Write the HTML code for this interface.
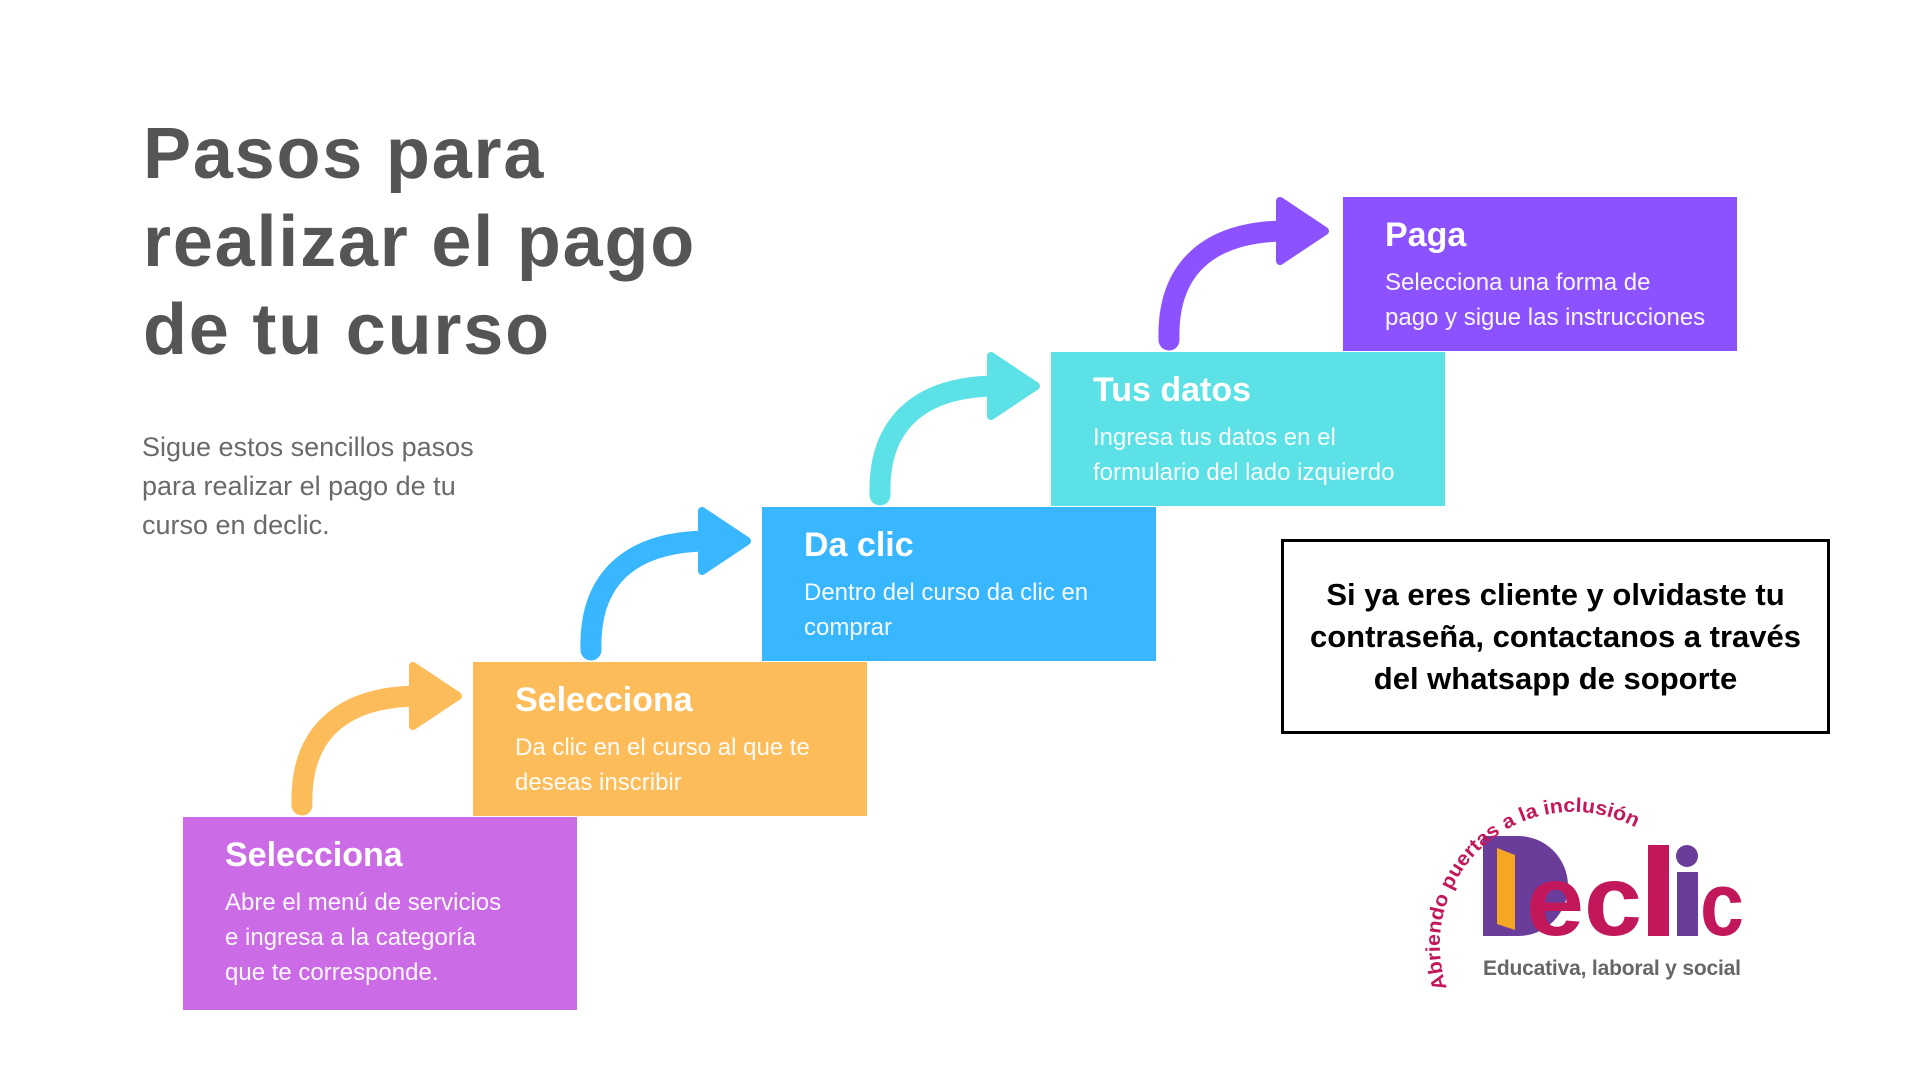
<!DOCTYPE html>
<html><head><meta charset="utf-8"><style>
*{margin:0;padding:0;box-sizing:border-box}
body{width:1920px;height:1080px;background:#fff;position:relative;overflow:hidden;font-family:"Liberation Sans",sans-serif}
.t{position:absolute;left:143px;color:#555;font-weight:bold;font-size:72px;letter-spacing:1.8px;line-height:88px;top:110px;white-space:nowrap}
.sub{position:absolute;left:142px;top:428px;color:#6a6a6a;font-size:27px;line-height:39px}
.box{position:absolute;width:394px;height:154px;color:#fff;padding-left:42px}
.box h2{font-size:34px;font-weight:bold;margin-top:18px;line-height:40px}
.box p{font-size:24px;line-height:35px;margin-top:10px;opacity:.95}
.note{position:absolute;left:1281px;top:539px;width:549px;height:195px;border:3px solid #000;display:flex;align-items:center;justify-content:center;text-align:center;font-weight:bold;font-size:31px;line-height:42px;color:#000}
</style></head><body>
<div class="t">Pasos para<br>realizar el pago<br>de tu curso</div>
<div class="sub">Sigue estos sencillos pasos<br>para realizar el pago de tu<br>curso en declic.</div>

<svg width="1920" height="1080" style="position:absolute;left:0;top:0">
<g fill="none" stroke-width="21" stroke-linecap="round">
<path d="M302,805 C300,735 340,696 420,696" stroke="#FDBC5A"/>
<path d="M591,650 C589,580 629,541 709,541" stroke="#38B6FF"/>
<path d="M880,495 C878,425 918,386 998,386" stroke="#5CE1E6"/>
<path d="M1169,340 C1167,270 1207,231 1287,231" stroke="#8C52FF"/>
</g>
<path d="M413,666 L458,696 L413,726 Z" fill="#FDBC5A" stroke="#FDBC5A" stroke-width="8" stroke-linejoin="round"/>
<path d="M702,511 L747,541 L702,571 Z" fill="#38B6FF" stroke="#38B6FF" stroke-width="8" stroke-linejoin="round"/>
<path d="M991,356 L1036,386 L991,416 Z" fill="#5CE1E6" stroke="#5CE1E6" stroke-width="8" stroke-linejoin="round"/>
<path d="M1280,201 L1325,231 L1280,261 Z" fill="#8C52FF" stroke="#8C52FF" stroke-width="8" stroke-linejoin="round"/>
<!-- logo -->
<rect x="1483" y="836" width="22" height="100" fill="#6A3D9A"/>
<path d="M1483,836 h35 a50,50 0 0 1 0,100 h-35 Z" fill="#6A3D9A"/>
<path d="M1497,848 L1515,855 L1515,930 L1497,924 Z" fill="#F5A623"/>
<text x="1526" y="935" font-family="Liberation Sans,sans-serif" font-weight="bold" font-size="100" fill="#C2185B" textLength="116" lengthAdjust="spacingAndGlyphs">ec</text>
<rect x="1648" y="845" width="21" height="91" fill="#C2185B"/>
<rect x="1677" y="872" width="21" height="64" fill="#6A3D9A"/>
<circle cx="1687" cy="856" r="11" fill="#6A3D9A"/>
<text x="1700" y="935" font-family="Liberation Sans,sans-serif" font-weight="bold" font-size="90" fill="#C2185B" textLength="44" lengthAdjust="spacingAndGlyphs">c</text>
<defs><path id="arc" d="M1447,988 A133,133 0 0 1 1652,838"/></defs>
<text font-family="Liberation Sans,sans-serif" font-weight="bold" font-size="20" fill="#C2185B"><textPath href="#arc" textLength="318" lengthAdjust="spacingAndGlyphs">Abriendo puertas a la inclusión</textPath></text>
<text x="1483" y="975" font-family="Liberation Sans,sans-serif" font-weight="bold" font-size="21" fill="#666" textLength="258">Educativa, laboral y social</text>
</svg>

<div class="box" style="left:183px;top:817px;height:193px;background:#CB6CE6"><h2>Selecciona</h2><p>Abre el menú de servicios<br>e ingresa a la categoría<br>que te corresponde.</p></div>
<div class="box" style="left:473px;top:662px;background:#FDBC5A"><h2>Selecciona</h2><p>Da clic en el curso al que te<br>deseas inscribir</p></div>
<div class="box" style="left:762px;top:507px;background:#38B6FF"><h2>Da clic</h2><p>Dentro del curso da clic en<br>comprar</p></div>
<div class="box" style="left:1051px;top:352px;background:#5CE1E6"><h2>Tus datos</h2><p>Ingresa tus datos en el<br>formulario del lado izquierdo</p></div>
<div class="box" style="left:1343px;top:197px;background:#8C52FF"><h2>Paga</h2><p>Selecciona una forma de<br>pago y sigue las instrucciones</p></div>

<div class="note">Si ya eres cliente y olvidaste tu<br>contraseña, contactanos a través<br>del whatsapp de soporte</div>
</body></html>
